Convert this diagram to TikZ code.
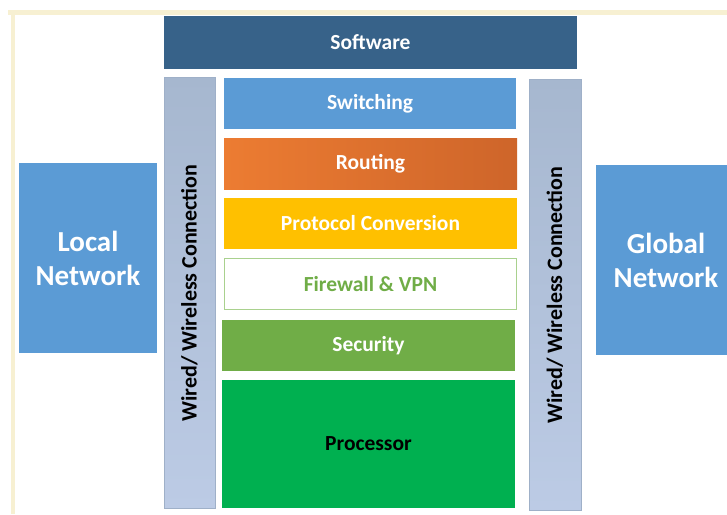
\documentclass[tikz,border=0pt]{standalone}
\usepackage{fontspec}
\setmainfont{Carlito}
\begin{document}
\begin{tikzpicture}[x=1pt,y=-1pt,
  blk/.style={anchor=north west,inner sep=0pt,outer sep=0pt,font=\bfseries\fontsize{21.5}{25}\selectfont,text=white},
  bar/.style={anchor=north west,inner sep=0pt,outer sep=0pt,top color=barTop,bottom color=barBot,draw=barEdge,line width=0.4pt},
  vtext/.style={rotate=90,font=\bfseries\fontsize{22}{26}\selectfont},
  net/.style={anchor=north west,inner sep=0pt,outer sep=0pt,fill=netBlue,text=white,align=center,font=\bfseries\fontsize{29}{34}\selectfont}]
\definecolor{frame}{HTML}{F7F0D2}
\definecolor{swBlue}{HTML}{376289}
\definecolor{netBlue}{HTML}{5B9BD5}
\definecolor{orA}{HTML}{EC7C32}
\definecolor{orB}{HTML}{CE652A}
\definecolor{yel}{HTML}{FFC000}
\definecolor{grnT}{HTML}{70AD47}
\definecolor{grnE}{HTML}{A9D18E}
\definecolor{proc}{HTML}{00B050}
\definecolor{barTop}{HTML}{A6B7CF}
\definecolor{barBot}{HTML}{BCCBE5}
\definecolor{barEdge}{HTML}{9FB0C8}
\useasboundingbox (0,0) rectangle (727,514);
\fill[white] (0,0) rectangle (727,514);
% frame
\fill[frame] (8,10) rectangle (727,15);
\fill[frame] (11,10) rectangle (15,514);
% software
\node[blk,fill=swBlue,minimum width=413pt,minimum height=53pt] (sw) at (164,16) {Software};
% connection bars
\node[bar,minimum width=51pt,minimum height=431pt] (lc) at (164,77) {};
\node[bar,minimum width=52pt,minimum height=431pt] (rc) at (529,79) {};
\node[vtext] (lct) at ([yshift=-0.5pt]lc.center) {Wired/ Wireless Connection};
\node[vtext] (rct) at ([yshift=-0.5pt]rc.center) {Wired/ Wireless Connection};
% layers
\node[blk,fill=netBlue,minimum width=292pt,minimum height=51pt] (swi) at (224,78) {Switching};
\node[blk,left color=orA,right color=orB,minimum width=293pt,minimum height=51pt] (rou) at (224,138) {Routing};
\node[blk,fill=yel,minimum width=293pt,minimum height=51pt] (pro) at (224,198) {Protocol Conversion};
\node[blk,fill=white,draw=grnE,line width=0.8pt,text=grnT,minimum width=292pt,minimum height=51pt] (fw) at (224.5,258.5) {Firewall \& VPN};
\node[blk,fill=grnT,minimum width=293pt,minimum height=51pt] (sec) at (222,320) {Security};
\node[blk,fill=proc,text=black,minimum width=293pt,minimum height=128pt] (cpu) at (222,380) {Processor};
% networks
\node[net,minimum width=138pt,minimum height=190pt] (loc) at (19,163) {Local\\Network};
\node[net,minimum width=140pt,minimum height=190pt] (glo) at (596,165) {Global\\Network};
\end{tikzpicture}
\end{document}
